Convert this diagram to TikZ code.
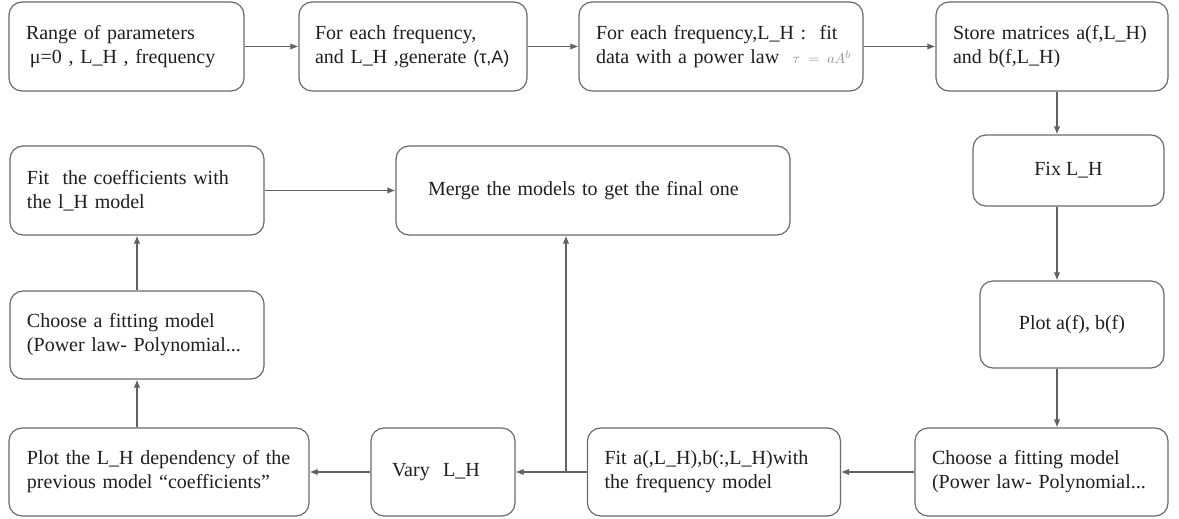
\documentclass[tikz,border=0pt]{standalone}
\usepackage{fontspec}
\setmainfont{Liberation Serif}
\newfontfamily\sansfont{Liberation Sans}
\usetikzlibrary{arrows.meta}

\begin{document}
\begin{tikzpicture}[x=1pt,y=-1pt,
  box/.style={draw=boxColor,line width=1.2pt,rounded corners=13pt,inner sep=0pt,
    align=left,text=textColor,font=\fontsize{20}{24}\selectfont},
  link/.style={draw=lineColor,line width=1.2pt,-{Latex[length=8pt,width=6.5pt]}}]
\definecolor[named]{boxColor}{rgb}{0.42,0.42,0.42}
\definecolor[named]{lineColor}{rgb}{0.38,0.38,0.38}
\definecolor[named]{textColor}{rgb}{0.12,0.12,0.12}
\definecolor[named]{formulaColor}{rgb}{0.55,0.55,0.55}
\path[use as bounding box,fill=white] (0,0) rectangle (1179,519);

\node[box,minimum width=235pt,minimum height=89pt,text width=201pt] (range) at (126.5,46.5)
  {Range of parameters\\\hspace*{4pt}μ=0 , L\_H , frequency};
\node[box,minimum width=228pt,minimum height=89pt,text width=196pt] (generate) at (413,46.5)
  {For each frequency,\\\mbox{and L\_H ,generate {\sansfont\fontsize{18}{24}\selectfont(τ,A)}}};
\node[box,minimum width=284pt,minimum height=89pt,text width=250pt] (powerfit) at (721,46.5)
  {For each frequency,L\_H :\ \ fit\\\mbox{data with a power law\ \ {\color{formulaColor}\fontsize{15}{18}\selectfont$\tau\;=\;aA^{b}$}}};
\node[box,minimum width=232pt,minimum height=89pt,text width=198pt] (store) at (1052,46.5)
  {Store matrices a(f,L\_H)\\and b(f,L\_H)};

\node[box,minimum width=191pt,minimum height=71pt] (fix) at (1068.5,170.5) {Fix L\_H};
\node[box,minimum width=184pt,minimum height=87pt] (plotab) at (1072,324.5) {Plot a(f), b(f)};

\node[box,minimum width=253pt,minimum height=88pt,text width=219pt] (choosefreq) at (1041.5,472)
  {Choose a fitting model\\(Power law- Polynomial...};
\node[box,minimum width=253pt,minimum height=88pt,text width=219pt] (fitfreq) at (714,472)
  {Fit a(,L\_H),b(:,L\_H)with\\the frequency model};
\node[box,minimum width=144pt,minimum height=88pt,text width=102pt] (vary) at (443,472)
  {Vary\ \ L\_H};
\node[box,minimum width=300pt,minimum height=88pt,text width=264pt] (plotlh) at (159,472)
  {Plot the L\_H dependency of the\\previous model “coefficients”};

\node[box,minimum width=254pt,minimum height=88pt,text width=220pt] (choosel) at (137,335)
  {Choose a fitting model\\(Power law- Polynomial...};
\node[box,minimum width=254pt,minimum height=89pt,text width=220pt] (fitcoef) at (137,190.5)
  {Fit\ \ the coefficients with\\the l\_H model};
\node[box,minimum width=394pt,minimum height=89pt,text width=330pt] (merge) at (593,190.5)
  {Merge the models to get the final one};

\coordinate (rcol) at (1057,0);
\coordinate (branch) at (566,472);

\draw[link] (range) -- (generate);
\draw[link] (generate) -- (powerfit);
\draw[link] (powerfit) -- (store);
\draw[link] (store.south -| rcol) -- (fix.north -| rcol);
\draw[link] (fix.south -| rcol) -- (plotab.north -| rcol);
\draw[link] (plotab.south -| rcol) -- (choosefreq.north -| rcol);
\draw[link] (choosefreq) -- (fitfreq);
\draw[link] (fitfreq) -- (vary);
\draw[link] (branch) -- (branch |- merge.south);
\draw[link] (vary) -- (plotlh);
\draw[link] (plotlh.north -| choosel.south) -- (choosel.south);
\draw[link] (choosel) -- (fitcoef);
\draw[link] (fitcoef) -- (merge);
\end{tikzpicture}
\end{document}
